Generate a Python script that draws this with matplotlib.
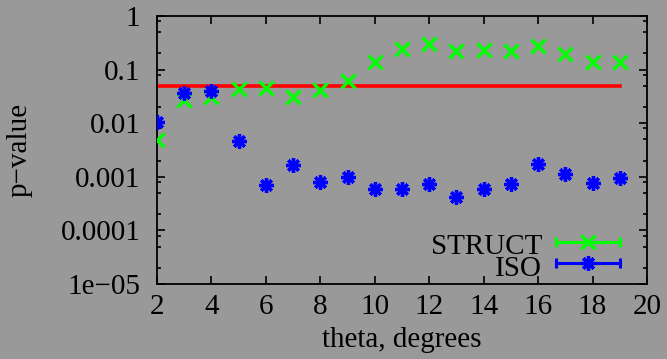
import numpy as np
import matplotlib.pyplot as plt

# theta in degrees
theta = [2, 3, 4, 5, 6, 7, 8, 9, 10, 11, 12, 13, 14, 15, 16, 17, 18, 19]

# p-values
struct_p = [0.0049, 0.027, 0.031, 0.043, 0.045, 0.031, 0.042, 0.061, 0.139, 0.24,
            0.296, 0.225, 0.232, 0.225, 0.279, 0.198, 0.137, 0.137]
iso_p = [0.0107, 0.036, 0.040, 0.0047, 0.00069, 0.00164, 0.0008, 0.00099, 0.0006, 0.0006,
         0.00072, 0.000425, 0.00059, 0.00073, 0.00171, 0.00113, 0.00076, 0.00094]

threshold = 0.05

ytick_vals = [1e-5, 1e-4, 1e-3, 1e-2, 1e-1, 1]
ytick_labels = ['1e\u221205', '0.0001', '0.001', '0.01', '0.1', '1']
xtick_vals = [2, 4, 6, 8, 10, 12, 14, 16, 18, 20]

plt.rcParams['font.family'] = ['Liberation Serif', 'DejaVu Serif']
plt.rcParams['font.size'] = 21

bg = '#999999'
fig = plt.figure(figsize=(6.67, 3.59), dpi=100, facecolor=bg)
ax = fig.add_axes([0.2354, 0.209, 0.7346, 0.7464], facecolor=bg)

# threshold line
ax.plot([theta[0], theta[-1]], [threshold, threshold], color='#ff0000', lw=2.6, zorder=2)

# data points
series = [
    ('STRUCT', struct_p, '#00ff00', 'x', 9.5, 2.4),
    ('ISO', iso_p, '#0000ff', (8, 2, 0), 10.5, 2.4),
]
for name, vals, col, mk, ms, mew in series:
    ax.plot(theta, vals, linestyle='none', marker=mk, ms=ms, mew=mew, color=col, zorder=3)

# gnuplot-style key, bottom right (axes coordinates)
tr = ax.transAxes
key_rows = [(0.157, 0.111), (0.0765, 0.030)]
for (name, vals, col, mk, ms, mew), (yl, yt) in zip(series, key_rows):
    ax.text(0.786, yt, name, transform=tr, ha='right', va='baseline')
    ax.plot([0.814, 0.945], [yl, yl], transform=tr, color=col, lw=2.2, clip_on=False)
    ax.plot([0.814, 0.945], [yl, yl], transform=tr, linestyle='none', marker='|',
            ms=7, mew=2.2, color=col, clip_on=False)
    ax.plot([0.88], [yl], transform=tr, linestyle='none', marker=mk, ms=ms, mew=mew,
            color=col, clip_on=False)

ax.set_yscale('log')
ax.set_ylim(1e-5, 1)
ax.set_xlim(2, 20)
ax.set_yticks(ytick_vals, ytick_labels)
ax.set_xticks(xtick_vals)

minor = [m * 10.0 ** e for e in range(-5, 0) for m in (2, 5, 8)]
ax.set_yticks(minor, minor=True)
ax.yaxis.set_minor_formatter(plt.NullFormatter())

ax.tick_params(which='both', direction='in', top=True, right=True, colors='black')
ax.tick_params(which='major', length=6, width=1.2)
ax.tick_params(which='minor', length=3, width=1.2)
ax.tick_params(axis='y', which='major', pad=12)
ax.tick_params(axis='x', which='major', pad=7)
for s in ax.spines.values():
    s.set_linewidth(1.3)

ax.set_xlabel('theta, degrees')
ax.set_ylabel('p\u2212value')
ax.yaxis.set_label_coords(-0.253, 0.5)
ax.xaxis.set_label_coords(0.5, -0.16)

fig.savefig('out.png', dpi=100, facecolor=bg)
